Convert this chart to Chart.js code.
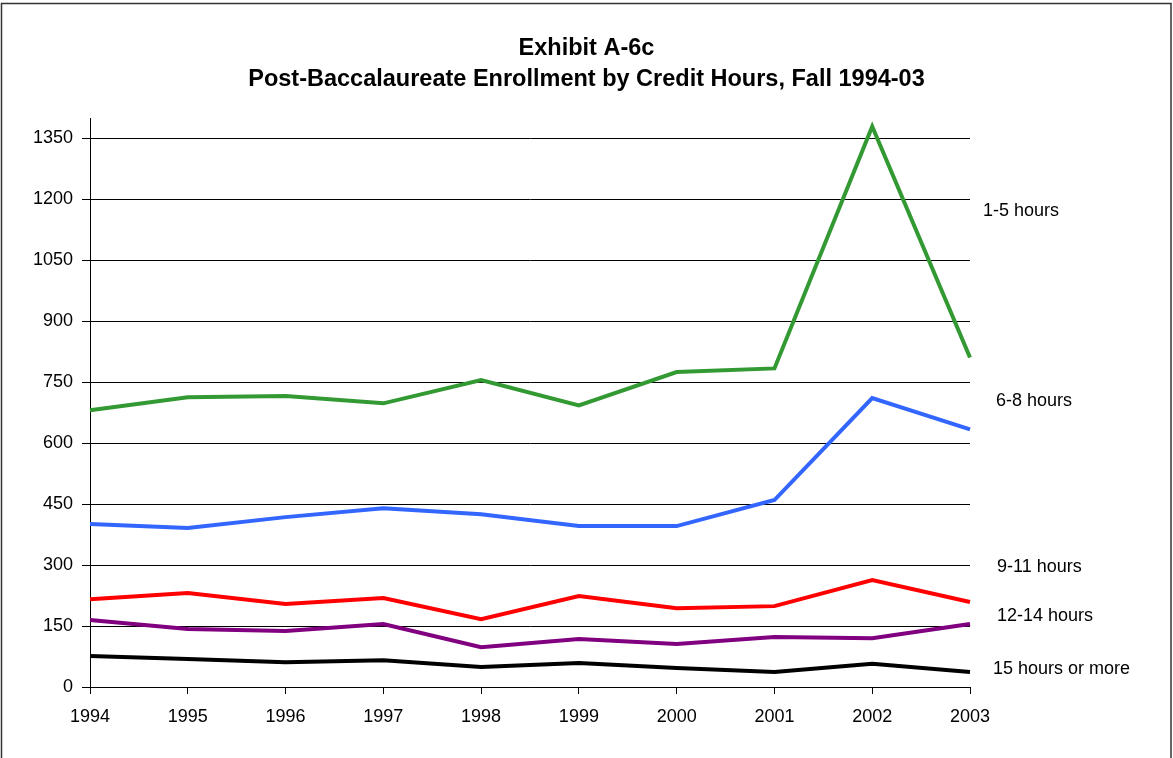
<!DOCTYPE html>
<html>
<head>
<meta charset="utf-8">
<script src="https://cdn.jsdelivr.net/npm/chart.js"></script>
<style>
  body { margin: 0; background: #fff; }
  #wrap { width: 1173px; height: 758px; position: relative; }
</style>
</head>
<body>
<div id="wrap"><canvas id="myChart"></canvas></div>
<script>
const years = ['1994', '1995', '1996', '1997', '1998', '1999', '2000', '2001', '2002', '2003'];
const hours1to5 = [681, 713, 716, 698, 755, 693, 775, 784, 1379, 811];
const hours6to8 = [401, 391, 418, 440, 425, 396, 396, 460, 711, 634];
const hours9to11 = [216, 231, 204, 219, 167, 224, 194, 199, 263, 209];
const hours12to14 = [165, 143, 138, 155, 98, 118, 106, 123, 120, 155];
const hours15plus = [76, 69, 61, 66, 49, 59, 47, 37, 57, 37];
const yTicks = [0, 150, 300, 450, 600, 750, 900, 1050, 1200, 1350];
const seriesNames = ['1-5 hours', '6-8 hours', '9-11 hours', '12-14 hours', '15 hours or more'];
// where the side labels sit, in axis units
const labelLevels = [1170, 703, 295, 175, 44];
const labelX = [983, 996, 997, 997, 993];

const FONT = '"Liberation Sans", Arial, sans-serif';

// frame round the whole picture + series names on the right
const extras = {
    id: 'extras',
    afterDraw(chart) {
        const ctx = chart.ctx;
        const y = chart.scales.y;
        ctx.save();
        ctx.strokeStyle = '#333';
        ctx.lineWidth = 1.5;
        ctx.strokeRect(1.5, 3.5, 1169.5, 800);
        ctx.fillStyle = '#000';
        ctx.font = '18px ' + FONT;
        ctx.textBaseline = 'middle';
        ctx.textAlign = 'left';
        seriesNames.forEach(function(name, i) {
            ctx.fillText(name, labelX[i], y.getPixelForValue(labelLevels[i]));
        });
        ctx.restore();
    }
};

const data = {
    labels: years,
    datasets: [
        { label: seriesNames[0], data: hours1to5, borderColor: '#339933' },
        { label: seriesNames[1], data: hours6to8, borderColor: '#3366FF' },
        { label: seriesNames[2], data: hours9to11, borderColor: '#FF0000' },
        { label: seriesNames[3], data: hours12to14, borderColor: '#800080' },
        { label: seriesNames[4], data: hours15plus, borderColor: '#000000' }
    ]
};

const config = {
    type: 'line',
    data: data,
    plugins: [extras],
    options: {
        responsive: true,
        maintainAspectRatio: false,
        animation: false,
        layout: { padding: { top: 17, left: 0, right: 0, bottom: 31 } },
        elements: {
            line: { borderWidth: 4, tension: 0, borderCapStyle: 'butt' },
            point: { radius: 0 }
        },
        plugins: {
            legend: { display: false },
            tooltip: { enabled: false },
            title: {
                display: true,
                text: ['Exhibit A-6c', 'Post-Baccalaureate Enrollment by Credit Hours, Fall 1994-03'],
                color: '#000',
                font: { family: FONT, size: 23.5, weight: 'bold', lineHeight: 1.32 },
                padding: { top: 16, bottom: 23 }
            }
        },
        scales: {
            x: {
                offset: false,
                grid: { drawOnChartArea: false, color: '#000', tickLength: 7, offset: false },
                border: { color: '#000' },
                ticks: { color: '#000', font: { family: FONT, size: 18 }, padding: 12, maxRotation: 0 },
                afterFit: function(s) { s.height = 40; }
            },
            y: {
                min: 0,
                max: 1400,
                grid: { color: '#000', tickLength: 8 },
                border: { color: '#000' },
                ticks: {
                    color: '#000', font: { family: FONT, size: 18 }, padding: 9,
                    callback: function(v) { return String(v); }
                },
                afterBuildTicks: function(s) {
                    s.ticks = yTicks.map(function(v) { return { value: v }; });
                },
                afterFit: function(s) { s.width = 90; }
            },
            // empty right-hand strip that holds the series names
            side: {
                position: 'right',
                display: true,
                grid: { display: false },
                border: { display: false },
                ticks: { display: false },
                afterFit: function(s) { s.width = 203; }
            }
        }
    }
};

var myChart = new Chart(document.getElementById('myChart'), config);
</script>
</body>
</html>
